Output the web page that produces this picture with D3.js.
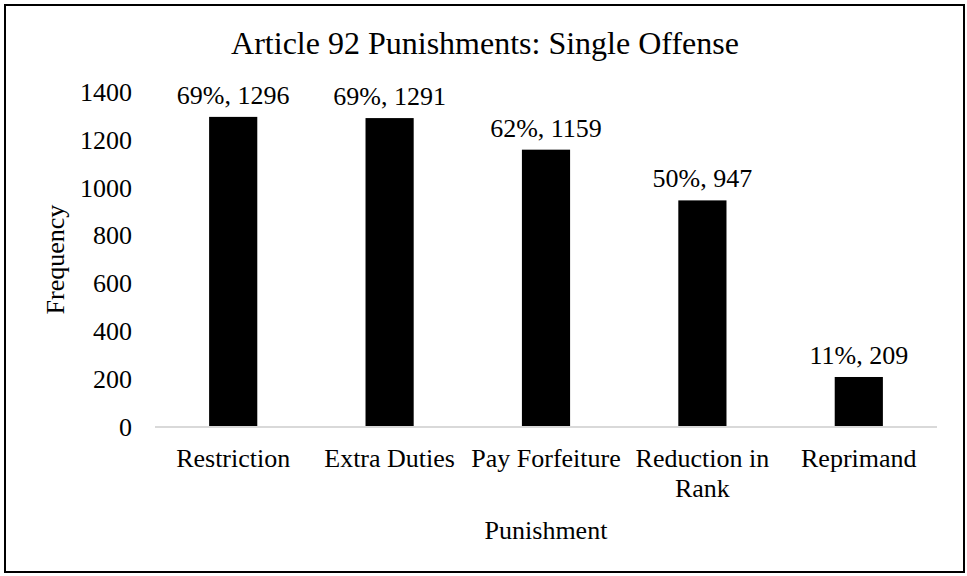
<!DOCTYPE html>
<html>
<head>
<meta charset="utf-8">
<script src="https://cdn.jsdelivr.net/npm/d3@7"></script>
<style>
  html, body { margin: 0; padding: 0; background: #fff; }
  svg { display: block; }
  text { font-family: "Liberation Serif", "Times New Roman", serif; fill: #000; }
</style>
</head>
<body>
<svg id="chart" width="967" height="576"></svg>
<script>
const categories = ["Restriction", "Extra Duties", "Pay Forfeiture", "Reduction in Rank", "Reprimand"];
const categoryLines = [["Restriction"], ["Extra Duties"], ["Pay Forfeiture"], ["Reduction in", "Rank"], ["Reprimand"]];
const values = [1296, 1291, 1159, 947, 209];
const percents = ["69%", "69%", "62%", "50%", "11%"];
const yTicks = [0, 200, 400, 600, 800, 1000, 1200, 1400];
const titleText = "Article 92 Punishments: Single Offense";
const xTitle = "Punishment";
const yTitle = "Frequency";

const svg = d3.select("#chart");

svg.append("rect")
  .attr("x", 5).attr("y", 5)
  .attr("width", 959).attr("height", 567)
  .attr("fill", "#fff").attr("stroke", "#000").attr("stroke-width", 2);

const plot = { left: 155, right: 937, top: 92, bottom: 427 };

const x = d3.scaleBand()
  .domain(categories)
  .range([plot.left, plot.right])
  .paddingInner(0.692)
  .paddingOuter(0.346);

const y = d3.scaleLinear()
  .domain([0, 1400])
  .range([plot.bottom, plot.top]);

// title
svg.append("text")
  .attr("x", 485)
  .attr("y", 54)
  .attr("text-anchor", "middle")
  .style("font-size", "32px")
  .text(titleText);

// y axis ticks (labels only)
const yAxis = d3.axisLeft(y).tickValues(yTicks).tickFormat(d3.format("d")).tickSize(0).tickPadding(0);
const gy = svg.append("g").attr("transform", `translate(132,0)`).call(yAxis);
gy.select(".domain").remove();
gy.selectAll("text")
  .style("font-family", "'Liberation Serif', serif")
  .style("font-size", "26px")
  .attr("fill", "#000");

// bars
svg.append("g").selectAll("rect")
  .data(values)
  .join("rect")
  .attr("x", (d, i) => x(categories[i]))
  .attr("y", d => y(d))
  .attr("width", x.bandwidth())
  .attr("height", d => y(0) - y(d))
  .attr("fill", "#000");

// baseline
svg.append("line")
  .attr("x1", plot.left).attr("x2", plot.right)
  .attr("y1", y(0)).attr("y2", y(0))
  .attr("stroke", "#d9d9d9").attr("stroke-width", 2);

// data labels
svg.append("g").selectAll("text")
  .data(values)
  .join("text")
  .attr("x", (d, i) => x(categories[i]) + x.bandwidth() / 2)
  .attr("y", d => y(d) - 13)
  .attr("text-anchor", "middle")
  .style("font-size", "26px")
  .text((d, i) => `${percents[i]}, ${d}`);

// x category labels
const xl = svg.append("g").selectAll("text")
  .data(categoryLines)
  .join("text")
  .attr("text-anchor", "middle")
  .style("font-size", "26px");
xl.each(function(lines, i) {
  const t = d3.select(this);
  const cx = x(categories[i]) + x.bandwidth() / 2;
  lines.forEach((ln, j) => {
    t.append("tspan").attr("x", cx).attr("y", 467 + j * 30).text(ln);
  });
});

// axis titles
svg.append("text")
  .attr("x", (plot.left + plot.right) / 2)
  .attr("y", 539)
  .attr("text-anchor", "middle")
  .style("font-size", "26px")
  .text(xTitle);

svg.append("text")
  .attr("transform", `translate(64,${(plot.top + plot.bottom) / 2}) rotate(-90)`)
  .attr("text-anchor", "middle")
  .style("font-size", "26px")
  .text(yTitle);
</script>
</body>
</html>
